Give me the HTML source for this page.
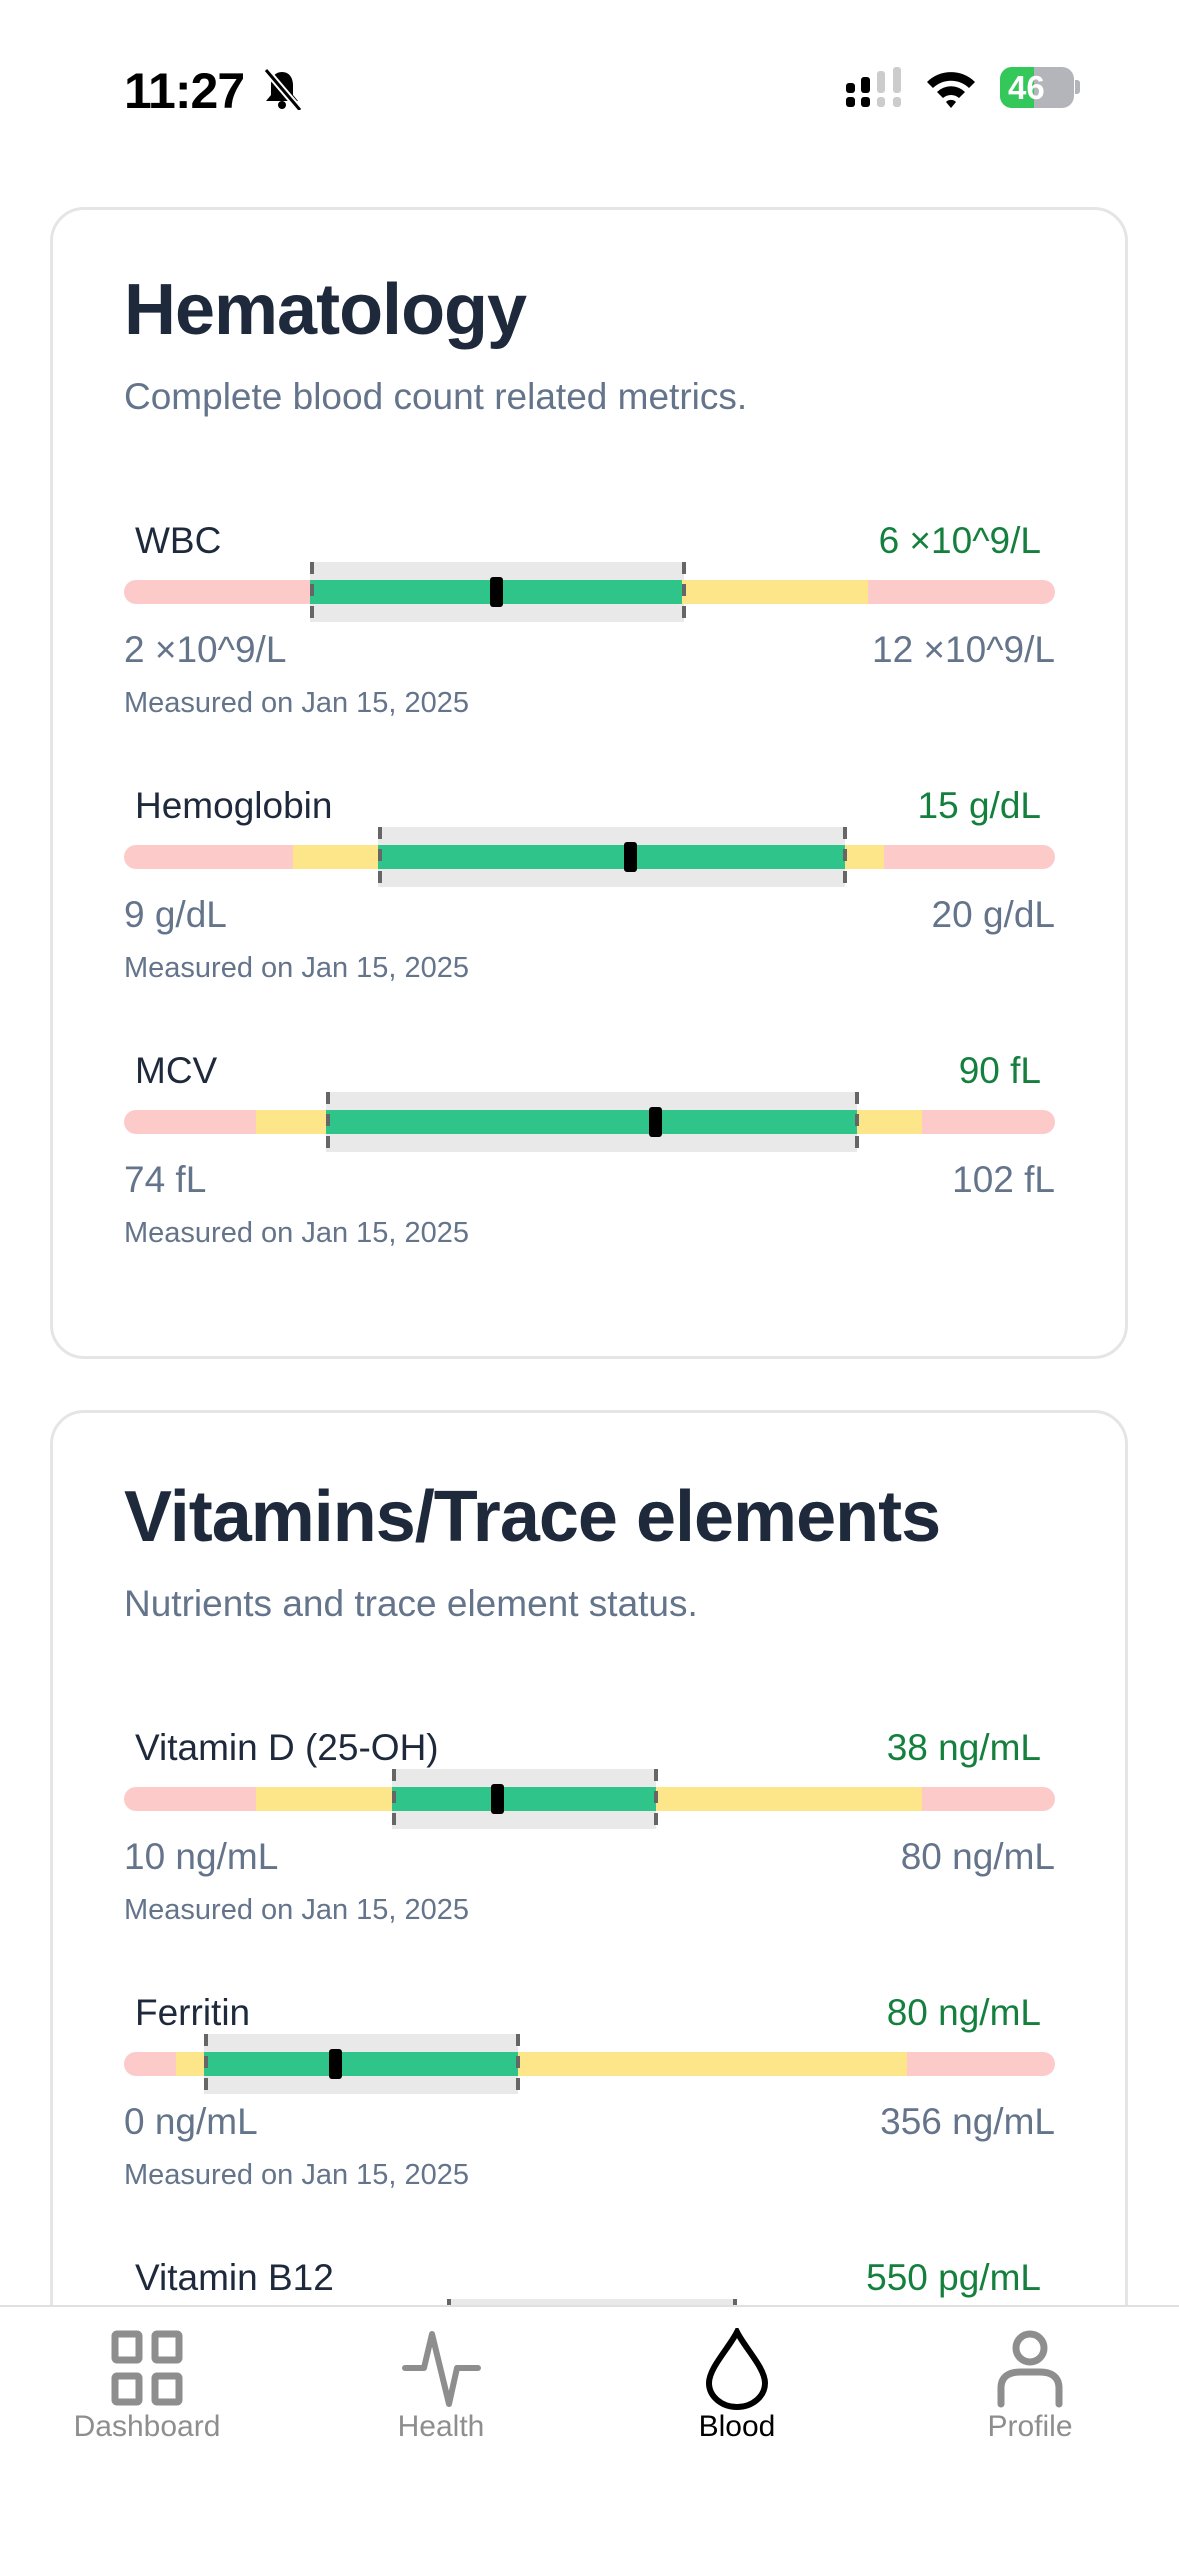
<!DOCTYPE html>
<html><head><meta charset="utf-8"><style>
*{margin:0;padding:0;box-sizing:border-box}
html{width:1179px;height:2556px;overflow:hidden}
body{width:1179px;height:2556px;background:#fff;position:relative;overflow:hidden;font-family:"Liberation Sans",sans-serif}
.a{position:absolute;white-space:nowrap}
.card{position:absolute;left:50px;width:1078px;border:3px solid #e5e5e5;border-radius:34px;background:#fff}
.t{font-size:72px;font-weight:bold;color:#1e293b;line-height:72px;left:124px;letter-spacing:-1px}
.s{font-size:37px;color:#64748b;line-height:37px;left:124px}
.lb{font-size:37px;color:#1e293b;line-height:37px;left:135px}
.v{font-size:37px;color:#15803d;line-height:37px;right:138px;text-align:right}
.mn{font-size:37px;color:#64748b;line-height:37px;left:124px}
.mx{font-size:37px;color:#64748b;line-height:37px;right:124px}
.ms{font-size:29px;color:#64748b;line-height:29px;left:124px}
.bar{position:absolute;left:124px;width:931px;height:24px;border-radius:12px;overflow:hidden;background:#fdcaca}
.seg{position:absolute;top:0;height:24px}
.gb{position:absolute;background:#e9e9e9;height:60px}
.dl{position:absolute;width:4px;height:60px;background:repeating-linear-gradient(#666 0 12px,transparent 12px 22px)}
.mk{position:absolute;width:13px;height:30px;background:#000;border-radius:3px}
.tab{position:absolute;font-size:30px;line-height:30px;text-align:center;width:240px}
</style></head><body>
<div class="a" style="left:124px;top:66px;font-size:50px;font-weight:bold;line-height:50px;letter-spacing:-1px">11:27</div>
<svg class="a" style="left:260px;top:68px" width="44" height="42" viewBox="0 0 44 42"><path d="M22 4c-8 0-11 7-11 13v10l-5 6h32l-5-6V17c0-6-3-13-11-13z" fill="#000"/><circle cx="22" cy="37" r="4" fill="#000"/><line x1="6" y1="2" x2="40" y2="42" stroke="#fff" stroke-width="7"/><line x1="6" y1="2" x2="40" y2="42" stroke="#000" stroke-width="3"/></svg>
<svg class="a" style="left:846px;top:67px" width="58" height="42"><rect x="0" y="16" width="9" height="10" rx="3"/><rect x="0" y="30" width="9" height="10" rx="3"/><rect x="15" y="10" width="9" height="16" rx="3"/><rect x="15" y="30" width="9" height="10" rx="3"/><rect x="31" y="4" width="8" height="22" rx="3" fill="#ccc"/><rect x="31" y="30" width="8" height="10" rx="3" fill="#ccc"/><rect x="47" y="0" width="8" height="26" rx="3" fill="#ccc"/><rect x="47" y="30" width="8" height="10" rx="3" fill="#ccc"/></svg>
<svg class="a" style="left:925px;top:68px" width="52" height="40" viewBox="0 0 52 40"><path d="M2 14A34 34 0 0 1 50 14L44 20A26 26 0 0 0 8 20Z"/><path d="M12 24A20 20 0 0 1 40 24L34 30A12 12 0 0 0 18 30Z"/><path d="M21 34A7 7 0 0 1 31 34L26 40Z"/></svg>
<div class="a" style="left:1000px;top:67px;width:74px;height:41px;border-radius:12px;background:#b3b5ba;overflow:hidden"><div style="width:34px;height:41px;background:#34c759"></div><div class="a" style="left:8px;top:4px;font-size:33px;font-weight:bold;color:#fff;line-height:33px">46</div></div>
<div class="a" style="left:1075px;top:80px;width:5px;height:14px;background:#b3b5ba;border-radius:0 3px 3px 0"></div>

<div class="card" style="top:207px;height:1152px"></div>
<div class="card" style="top:1410px;height:1100px"></div>

<div class="a t" style="top:274px">Hematology</div>
<div class="a s" style="top:378px">Complete blood count related metrics.</div>
<div class="a t" style="top:1481px">Vitamins/Trace elements</div>
<div class="a s" style="top:1585px">Nutrients and trace element status.</div>

<div class="a lb" style="top:522px">WBC</div><div class="a v" style="top:522px">6 ×10^9/L</div>
<div class="gb" style="left:310px;width:374px;top:562px"></div>
<div class="bar" style="top:580px"><div class="seg" style="left:186px;width:372px;background:#2fc48a"></div><div class="seg" style="left:558px;width:186px;background:#fde68a"></div></div>
<div class="dl" style="left:310px;top:562px"></div><div class="dl" style="left:682px;top:562px"></div>
<div class="mk" style="left:490px;top:577px"></div>
<div class="a mn" style="top:631px">2 ×10^9/L</div><div class="a mx" style="top:631px">12 ×10^9/L</div>
<div class="a ms" style="top:689px">Measured on Jan 15, 2025</div>

<div class="a lb" style="top:787px">Hemoglobin</div><div class="a v" style="top:787px">15 g/dL</div>
<div class="gb" style="left:378px;width:467px;top:827px"></div>
<div class="bar" style="top:845px"><div class="seg" style="left:169px;width:85px;background:#fde68a"></div><div class="seg" style="left:254px;width:467px;background:#2fc48a"></div><div class="seg" style="left:721px;width:39px;background:#fde68a"></div></div>
<div class="dl" style="left:378px;top:827px"></div><div class="dl" style="left:843px;top:827px"></div>
<div class="mk" style="left:624px;top:842px"></div>
<div class="a mn" style="top:896px">9 g/dL</div><div class="a mx" style="top:896px">20 g/dL</div>
<div class="a ms" style="top:954px">Measured on Jan 15, 2025</div>

<div class="a lb" style="top:1052px">MCV</div><div class="a v" style="top:1052px">90 fL</div>
<div class="gb" style="left:326px;width:531px;top:1092px"></div>
<div class="bar" style="top:1110px"><div class="seg" style="left:132px;width:70px;background:#fde68a"></div><div class="seg" style="left:202px;width:531px;background:#2fc48a"></div><div class="seg" style="left:733px;width:65px;background:#fde68a"></div></div>
<div class="dl" style="left:326px;top:1092px"></div><div class="dl" style="left:855px;top:1092px"></div>
<div class="mk" style="left:649px;top:1107px"></div>
<div class="a mn" style="top:1161px">74 fL</div><div class="a mx" style="top:1161px">102 fL</div>
<div class="a ms" style="top:1219px">Measured on Jan 15, 2025</div>

<div class="a lb" style="top:1729px">Vitamin D (25-OH)</div><div class="a v" style="top:1729px">38 ng/mL</div>
<div class="gb" style="left:392px;width:264px;top:1769px"></div>
<div class="bar" style="top:1787px"><div class="seg" style="left:132px;width:136px;background:#fde68a"></div><div class="seg" style="left:268px;width:264px;background:#2fc48a"></div><div class="seg" style="left:532px;width:266px;background:#fde68a"></div></div>
<div class="dl" style="left:392px;top:1769px"></div><div class="dl" style="left:654px;top:1769px"></div>
<div class="mk" style="left:491px;top:1784px"></div>
<div class="a mn" style="top:1838px">10 ng/mL</div><div class="a mx" style="top:1838px">80 ng/mL</div>
<div class="a ms" style="top:1896px">Measured on Jan 15, 2025</div>

<div class="a lb" style="top:1994px">Ferritin</div><div class="a v" style="top:1994px">80 ng/mL</div>
<div class="gb" style="left:204px;width:314px;top:2034px"></div>
<div class="bar" style="top:2052px"><div class="seg" style="left:52px;width:28px;background:#fde68a"></div><div class="seg" style="left:80px;width:314px;background:#2fc48a"></div><div class="seg" style="left:394px;width:389px;background:#fde68a"></div></div>
<div class="dl" style="left:204px;top:2034px"></div><div class="dl" style="left:516px;top:2034px"></div>
<div class="mk" style="left:329px;top:2049px"></div>
<div class="a mn" style="top:2103px">0 ng/mL</div><div class="a mx" style="top:2103px">356 ng/mL</div>
<div class="a ms" style="top:2161px">Measured on Jan 15, 2025</div>

<div class="a lb" style="top:2259px">Vitamin B12</div><div class="a v" style="top:2259px">550 pg/mL</div>
<div class="gb" style="left:449px;width:287px;top:2299px"></div>
<div class="dl" style="left:447px;top:2299px"></div><div class="dl" style="left:733px;top:2299px"></div>

<div class="a" style="left:0;top:2305px;width:1179px;height:251px;background:#fff;border-top:2px solid #e0e0e0"></div>
<svg class="a" style="left:111px;top:2330px" width="72" height="76" viewBox="0 0 72 76" fill="none" stroke="#8e8e8e" stroke-width="7"><rect x="4" y="4" width="24" height="26" rx="2"/><rect x="44" y="4" width="24" height="26" rx="2"/><rect x="4" y="46" width="24" height="26" rx="2"/><rect x="44" y="46" width="24" height="26" rx="2"/></svg>
<svg class="a" style="left:402px;top:2330px" width="80" height="78" viewBox="0 0 80 78" fill="none" stroke="#8e8e8e" stroke-width="6" stroke-linejoin="round" stroke-linecap="round"><path d="M3 38H22L30 4L47 74L55 38H76"/></svg>
<svg class="a" style="left:704px;top:2328px" width="66" height="82" viewBox="0 0 66 82" fill="none" stroke="#000" stroke-width="6"><path d="M33 4C25 20 5 40 5 55a28 24 0 0 0 56 0C61 40 41 20 33 4Z"/></svg>
<svg class="a" style="left:996px;top:2330px" width="68" height="78" viewBox="0 0 68 78" fill="none" stroke="#8e8e8e" stroke-width="7" stroke-linecap="round"><circle cx="34" cy="18" r="14"/><path d="M5 74V58C5 46 14 42 24 42H44C54 42 63 46 63 58V74"/></svg>
<div class="a tab" style="left:27px;top:2412px;color:#8e8e8e">Dashboard</div>
<div class="a tab" style="left:321px;top:2412px;color:#8e8e8e">Health</div>
<div class="a tab" style="left:617px;top:2412px;color:#000">Blood</div>
<div class="a tab" style="left:910px;top:2412px;color:#8e8e8e">Profile</div>
</body></html>
